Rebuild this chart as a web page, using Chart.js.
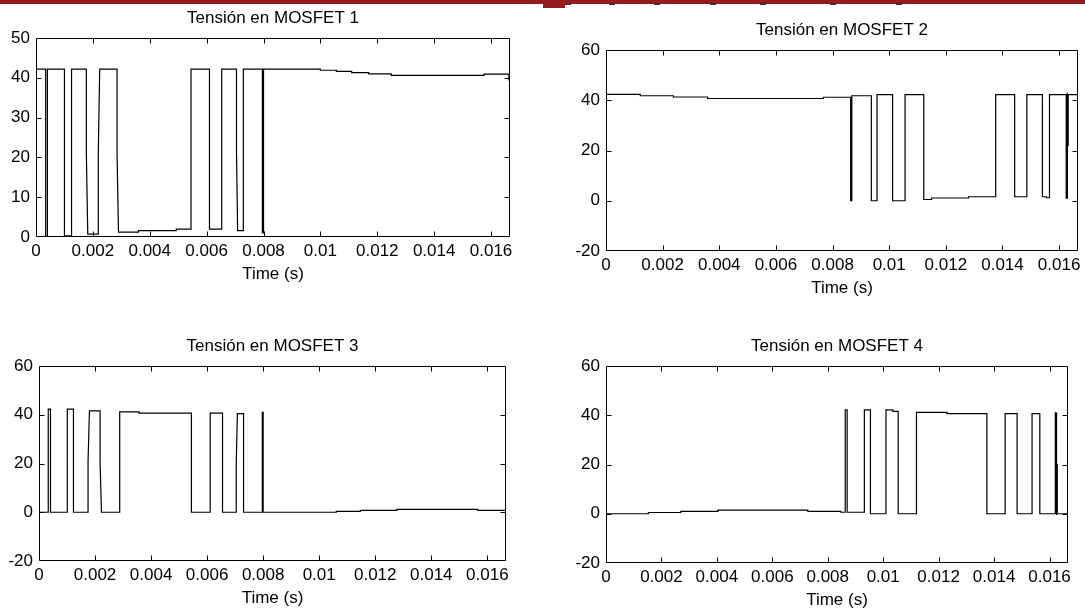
<!DOCTYPE html>
<html>
<head>
<meta charset="utf-8">
<script src="https://cdn.jsdelivr.net/npm/chart.js@4.4.1/dist/chart.umd.min.js"></script>
<style>
  html, body { margin: 0; padding: 0; background: #fff; }
  body { width: 1085px; height: 613px; position: relative; overflow: hidden; }
  .topbar { position: absolute; left: 0; top: 0; width: 1085px; height: 4px; background: #951b1f; }
  .tab { position: absolute; left: 543px; top: 0; width: 22px; height: 8px; background: #951b1f; }
  .dash { position: absolute; top: 3px; width: 6px; height: 2px; background: #333; }
  canvas { position: absolute; }
</style>
</head>
<body>
<div class="topbar"></div>
<div class="tab"></div>
<div class="dash" style="left:565px"></div>
<div class="dash" style="left:609px"></div>
<div class="dash" style="left:654px"></div>
<div class="dash" style="left:710px"></div>
<div class="dash" style="left:760px"></div>
<div class="dash" style="left:830px"></div>
<div class="dash" style="left:896px"></div>
<canvas id="m1"></canvas>
<canvas id="m2"></canvas>
<canvas id="m3"></canvas>
<canvas id="m4"></canvas>
<script>
// one period of 60 Hz
const X_MAX = 1 / 60;
const xTickVals = [0, 0.002, 0.004, 0.006, 0.008, 0.01, 0.012, 0.014, 0.016];
const yTicksM1 = [0, 10, 20, 30, 40, 50];
const yTicksOther = [-20, 0, 20, 40, 60];

const titles = ["Tensión en MOSFET 1", "Tensión en MOSFET 2", "Tensión en MOSFET 3", "Tensión en MOSFET 4"];
const xLabel = "Time (s)";

// MOSFET 1: time (s) / voltage (V) breakpoints
const m1Time = [0, 0.00034, 0.00034, 0.0004, 0.0004, 0.001, 0.001, 0.00125, 0.00125,
  0.00177, 0.00177, 0.00182, 0.00219, 0.00219, 0.00224, 0.00285, 0.00285, 0.0029,
  0.0036, 0.0036, 0.00493, 0.00493, 0.00545, 0.00545, 0.0061, 0.0061, 0.00653, 0.00653,
  0.00705, 0.00705, 0.00709, 0.00729, 0.00729, 0.00796, 0.00796, 0.008, 0.008,
  0.01, 0.01, 0.01056, 0.01056, 0.0111, 0.0111, 0.0117, 0.0117, 0.01249, 0.01249,
  0.01575, 0.01575, 0.01663, 0.01663, X_MAX];
const m1Volt = [42.2, 42.2, 0, 0, 42.2, 42.2, 0.3, 0.3, 42.2,
  42.2, 21, 0.7, 0.7, 21, 42.2, 42.2, 21, 1.2,
  1.2, 1.6, 1.6, 2, 2, 42.2, 42.2, 2, 2, 42.2,
  42.2, 21, 1.6, 1.6, 42.2, 42.2, 1, 1, 42.2,
  42.2, 41.9, 41.9, 41.6, 41.6, 41.3, 41.3, 41.0, 41.0, 40.6,
  40.6, 40.9, 40.9, 39.5, 39.5];

// MOSFET 2
const m2Time = [0, 0.00121, 0.00121, 0.00238, 0.00238, 0.00359, 0.00359, 0.00768, 0.00768,
  0.00864, 0.00864, 0.00868, 0.00868, 0.00937, 0.00937, 0.00957, 0.00957,
  0.01012, 0.01012, 0.01056, 0.01056, 0.01122, 0.01122, 0.0115, 0.0115, 0.0128, 0.0128,
  0.01376, 0.01376, 0.01443, 0.01443, 0.01486, 0.01486, 0.01541, 0.01541, 0.01555, 0.01555,
  0.01566, 0.01566, 0.01625, 0.01625, 0.01628, 0.01628, 0.0163, 0.0163, 0.01632, 0.01632, X_MAX];
const m2Volt = [42.3, 42.3, 41.8, 41.8, 41.3, 41.3, 40.7, 40.7, 41.2,
  41.2, 0, 0, 41.8, 41.8, 0, 0, 42.2,
  42.2, 0, 0, 42.2, 42.2, 0.5, 0.5, 1.1, 1.1, 1.6,
  1.6, 42.2, 42.2, 1.6, 1.6, 42.2, 42.2, 1.6, 1.6, 1.2,
  1.2, 42.2, 42.2, 1, 1, 43, 43, 22, 22, 42.2, 42.2];

// MOSFET 3
const m3Time = [0, 0.00033, 0.00033, 0.00041, 0.00041, 0.00101, 0.00101, 0.00123, 0.00123,
  0.00175, 0.00175, 0.0018, 0.00218, 0.00218, 0.00223, 0.00288, 0.00288, 0.00357, 0.00357,
  0.00544, 0.00544, 0.00611, 0.00611, 0.00655, 0.00655, 0.00704, 0.00704, 0.00708,
  0.0073, 0.0073, 0.00797, 0.00797, 0.008, 0.008, 0.01061, 0.01061, 0.01147, 0.01147,
  0.01277, 0.01277, 0.01566, 0.01566, X_MAX];
const m3Volt = [0, 0, 42.3, 42.3, 0, 0, 42.3, 42.3, 0,
  0, 20.5, 41.6, 41.6, 20.5, 0, 0, 41.2, 41.2, 40.7,
  40.7, 0, 0, 40.7, 40.7, 0, 0, 20.5, 40.5,
  40.5, 0, 0, 41, 41, 0, 0, 0.4, 0.4, 0.8,
  0.8, 1.2, 1.2, 0.8, 0.8];

// MOSFET 4
const m4Time = [0, 0.00153, 0.00153, 0.0027, 0.0027, 0.00404, 0.00404, 0.00728, 0.00728,
  0.00847, 0.00847, 0.00863, 0.00863, 0.0087, 0.0087, 0.00932, 0.00932, 0.00954, 0.00954,
  0.0101, 0.0101, 0.01035, 0.01035, 0.01054, 0.01054, 0.0112, 0.0112, 0.0123, 0.0123,
  0.01374, 0.01374, 0.0144, 0.0144, 0.01483, 0.01483, 0.01537, 0.01537, 0.01565, 0.01565,
  0.01621, 0.01621, 0.01624, 0.01624, 0.01626, 0.01626, 0.01628, 0.01628, X_MAX];
const m4Volt = [0, 0, 0.5, 0.5, 1, 1, 1.5, 1.5, 1,
  1, 0.6, 0.6, 42.2, 42.2, 0.6, 0.6, 42.2, 42.2, 0,
  0, 42.2, 42.2, 41.6, 41.6, 0, 0, 41.2, 41.2, 40.7,
  40.7, 0, 0, 40.7, 40.7, 0, 0, 40.7, 40.7, 0,
  0, 41, 41, -0.5, -0.5, 20, 20, 0, 0];

// layout of each axes box in page pixels (left, top, right, bottom)
const AXIS_W = 40;   // room for y tick labels
const TITLE_H = 32;  // room above the box for the title
const XAXIS_H = 48;  // room below the box for tick labels + "Time (s)"
const PAD_R = 14;
const TICK_LEN = 5;
const FONT = "'Liberation Sans', Arial, Helvetica, sans-serif";

Chart.defaults.font.family = FONT;
Chart.defaults.font.size = 17;
Chart.defaults.color = "#000";

// MATLAB-like closed box with ticks pointing inward on all four sides
const boxTicks = {
  id: "boxTicks",
  afterDraw(chart) {
    const { ctx, chartArea: a, scales } = chart;
    const l = Math.round(a.left) + 0.5;
    const r = Math.round(a.right) - 0.5;
    const t = Math.round(a.top) + 0.5;
    const b = Math.round(a.bottom) - 0.5;
    ctx.save();
    ctx.strokeStyle = "#000";
    ctx.lineWidth = 1;
    ctx.beginPath();
    ctx.rect(l, t, r - l, b - t);
    scales.x.ticks.forEach(tk => {
      const px = Math.round(scales.x.getPixelForValue(tk.value)) + 0.5;
      if (px <= l + 1 || px >= r - 1) return;
      ctx.moveTo(px, b); ctx.lineTo(px, b - TICK_LEN);
      ctx.moveTo(px, t); ctx.lineTo(px, t + TICK_LEN);
    });
    scales.y.ticks.forEach(tk => {
      const py = Math.round(scales.y.getPixelForValue(tk.value)) + 0.5;
      if (py <= t + 1 || py >= b - 1) return;
      ctx.moveTo(l, py); ctx.lineTo(l + TICK_LEN, py);
      ctx.moveTo(r, py); ctx.lineTo(r - TICK_LEN, py);
    });
    ctx.stroke();
    ctx.restore();
  }
};

function fmtX(v) {
  return String(parseFloat(Number(v).toFixed(4)));
}

function makeChart(id, box, title, times, volts, yMin, yMax, yTicks) {
  const canvas = document.getElementById(id);
  const w = box.r - box.l + AXIS_W + PAD_R;
  const h = box.b - box.t + TITLE_H + XAXIS_H;
  canvas.width = w;
  canvas.height = h;
  canvas.style.width = w + "px";
  canvas.style.height = h + "px";
  canvas.style.left = (box.l - AXIS_W) + "px";
  canvas.style.top = (box.t - TITLE_H) + "px";

  const points = times.map((t, i) => ({ x: t, y: volts[i] }));

  return new Chart(canvas, {
    type: "scatter",
    data: {
      datasets: [{
        data: points,
        showLine: true,
        borderColor: "#000",
        borderWidth: 1.2,
        pointRadius: 0,
        tension: 0
      }]
    },
    options: {
      responsive: false,
      animation: false,
      layout: { padding: { left: 0, top: 0, right: PAD_R, bottom: 0 } },
      plugins: {
        legend: { display: false },
        tooltip: { enabled: false },
        title: {
          display: true,
          fullSize: false,
          text: title,
          color: "#000",
          font: { size: 17, weight: "normal" },
          padding: { top: 2, bottom: TITLE_H - 2 - 17 * 1.2 }
        }
      },
      scales: {
        x: {
          type: "linear",
          min: 0,
          max: X_MAX,
          grid: { display: false, drawTicks: false },
          border: { display: false },
          afterBuildTicks: s => { s.ticks = xTickVals.map(v => ({ value: v })); },
          afterFit: s => { s.height = XAXIS_H; },
          ticks: { padding: 4, maxRotation: 0, autoSkip: false, callback: fmtX },
          title: { display: true, text: xLabel, font: { size: 17 }, padding: { top: 0, bottom: 0 } }
        },
        y: {
          min: yMin,
          max: yMax,
          grid: { display: false, drawTicks: false },
          border: { display: false },
          afterBuildTicks: s => { s.ticks = yTicks.map(v => ({ value: v })); },
          afterFit: s => { s.width = AXIS_W; },
          ticks: { padding: 6 }
        }
      }
    },
    plugins: [boxTicks]
  });
}

makeChart("m1", { l: 36, t: 38, r: 510, b: 237 }, titles[0], m1Time, m1Volt, 0, 50, yTicksM1);
makeChart("m2", { l: 606, t: 50, r: 1078, b: 251 }, titles[1], m2Time, m2Volt, -20, 60, yTicksOther);
makeChart("m3", { l: 39, t: 366, r: 506, b: 561 }, titles[2], m3Time, m3Volt, -20, 60, yTicksOther);
makeChart("m4", { l: 606, t: 366, r: 1068, b: 563 }, titles[3], m4Time, m4Volt, -20, 60, yTicksOther);
</script>
</body>
</html>
